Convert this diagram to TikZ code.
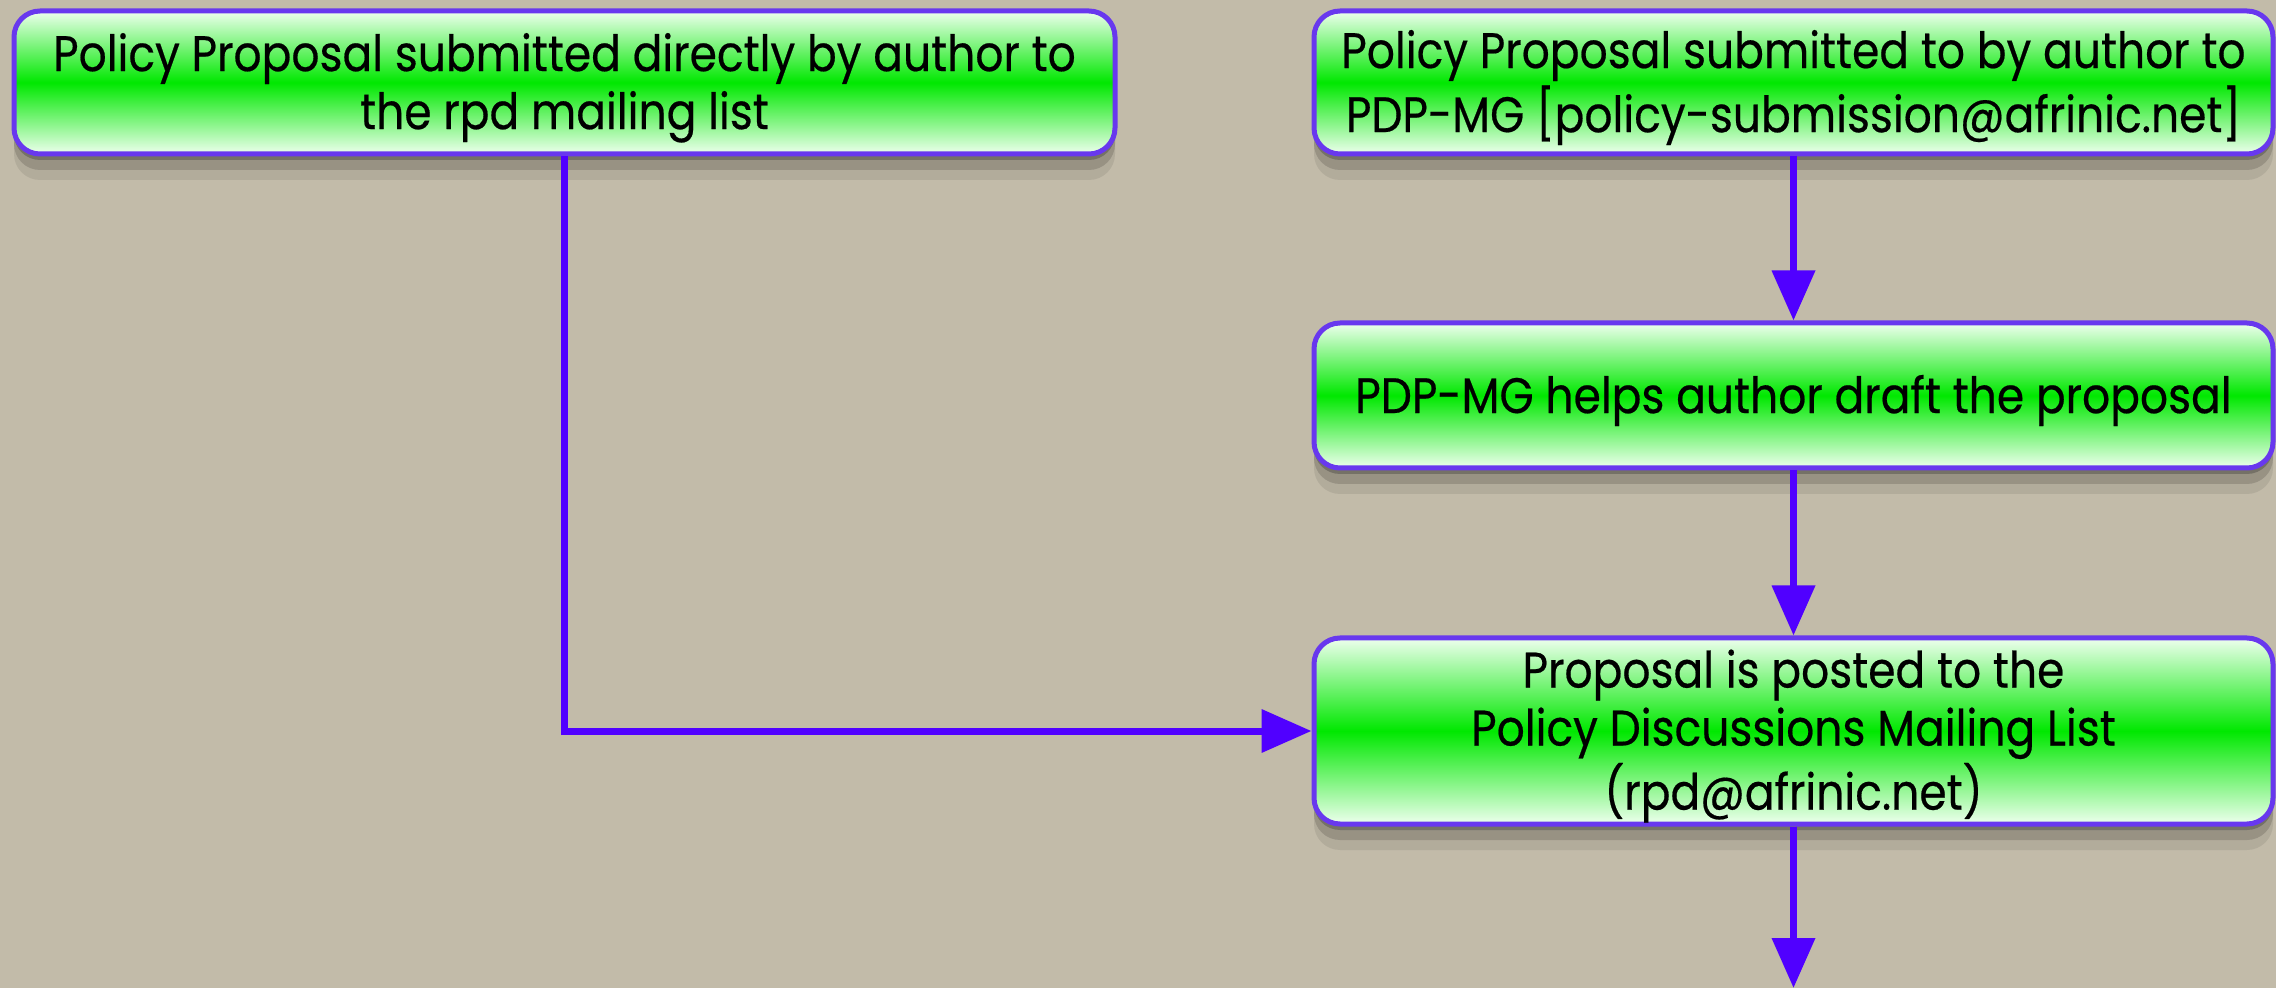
\documentclass[tikz,border=0pt]{standalone}
\usepackage{fontspec}
\setmainfont[FakeStretch=0.88,FakeBold=0.4]{Poppins}
\usetikzlibrary{arrows.meta,shadows}
\definecolor{bg}{RGB}{194,187,169}
\definecolor{edge}{RGB}{104,56,238}
\definecolor{arrowc}{RGB}{80,0,255}
\definecolor{gmid}{RGB}{0,232,0}
\definecolor{gtop}{RGB}{238,255,238}
\newcommand{\bxtxt}[1]{\raisebox{-3pt}[\height][\depth]{\begin{tabular}{@{}c@{}}#1\end{tabular}}}
\tikzset{
  flowbox/.style={rounded corners=13pt, draw=edge, line width=2.5pt,
    shading=axis, top color=gtop, bottom color=gtop, middle color=gmid,
    font=\fontsize{25pt}{29pt}\selectfont, inner sep=0pt,
    general shadow={shadow yshift=-3pt, opacity=0.22, fill=black},
    general shadow={shadow yshift=-8pt, opacity=0.15, fill=black},
    general shadow={shadow yshift=-13pt, opacity=0.08, fill=black}},
  arr/.style={draw=arrowc, line width=3.5pt, -{Triangle[length=25pt,width=21pt]}}
}
\begin{document}
\begin{tikzpicture}[x=0.5pt,y=-0.5pt]
\fill[bg] (0,0) rectangle (2276,988);
\useasboundingbox (0,0) rectangle (2276,988);
\node[flowbox, minimum width=550.5pt, minimum height=71.5pt] (A) at (564.5,82.5)
  {\bxtxt{Policy Proposal submitted directly by author to\\the rpd mailing list}};
\node[flowbox, minimum width=479.5pt, minimum height=71.5pt] (B) at (1793.5,82.5)
  {\bxtxt{Policy Proposal submitted to by author to\\PDP-MG [policy-submission@afrinic.net]}};
\node[flowbox, minimum width=479.5pt, minimum height=72.5pt] (C) at (1793.5,395.5)
  {\bxtxt{PDP-MG helps author draft the proposal}};
\node[flowbox, minimum width=479.5pt, minimum height=93pt] (D) at (1793.5,731)
  {\bxtxt{Proposal is posted to the\\Policy Discussions Mailing List\\(rpd@afrinic.net)}};
\coordinate (E) at (1800,988);
\draw[arr] (A.south) |- (D.west);
\draw[arr] (B.south) -- (C.north);
\draw[arr] (C.south) -- (D.north);
\draw[arr] (D.south) -- (D.south |- E);
\end{tikzpicture}
\end{document}
